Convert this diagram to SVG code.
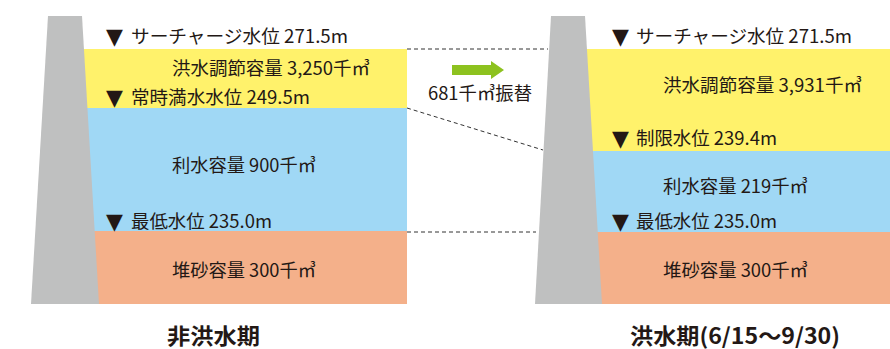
<svg xmlns="http://www.w3.org/2000/svg" width="890" height="349" viewBox="0 0 890 349">
<style>
.t{font-family:"Noto Sans CJK JP","Noto Sans",sans-serif;font-size:18px;fill:#231815}
.tri{font-family:"DejaVu Sans",sans-serif;font-size:22px;fill:#231815}
.h{font-family:"Noto Sans CJK JP","Noto Sans",sans-serif;font-size:22px;font-weight:bold;fill:#231815}
.dam{fill:#bfc0c0}
.y{fill:#fff26b}.b{fill:#a0d8f5}.o{fill:#f4b08a}
.dash{stroke:#333;stroke-width:1;stroke-dasharray:4 3;fill:none}
</style>
<rect width="890" height="349" fill="#fff"/>
<g id="left">
  <rect class="y" x="80" y="49" width="327" height="59"/>
  <rect class="b" x="80" y="108" width="327" height="123"/>
  <rect class="o" x="80" y="231" width="327" height="73"/>
  <polygon class="dam" points="48,16 82,16 99,304 31,304"/>
  <text class="tri" x="106" y="44">▼</text>
  <text class="t" x="131" y="43" textLength="217" lengthAdjust="spacingAndGlyphs">サーチャージ水位 271.5m</text>
  <text class="t" x="172" y="75" textLength="198" lengthAdjust="spacingAndGlyphs">洪水調節容量 3,250千㎥</text>
  <text class="tri" x="106" y="105">▼</text>
  <text class="t" x="131" y="104" textLength="179" lengthAdjust="spacingAndGlyphs">常時満水水位 249.5m</text>
  <text class="t" x="172" y="172" textLength="144" lengthAdjust="spacingAndGlyphs">利水容量 900千㎥</text>
  <text class="tri" x="106" y="229">▼</text>
  <text class="t" x="131" y="228" textLength="141" lengthAdjust="spacingAndGlyphs">最低水位 235.0m</text>
  <text class="t" x="172" y="277" textLength="144" lengthAdjust="spacingAndGlyphs">堆砂容量 300千㎥</text>
  <text class="h" x="167" y="344" textLength="93" lengthAdjust="spacingAndGlyphs">非洪水期</text>
</g>
<g id="right">
  <rect class="y" x="580" y="49" width="310" height="102"/>
  <rect class="b" x="580" y="151" width="310" height="81"/>
  <rect class="o" x="580" y="232" width="310" height="72"/>
  <polygon class="dam" points="551,16 585,16 602,304 535,304"/>
  <text class="tri" x="612" y="44">▼</text>
  <text class="t" x="636" y="43" textLength="216" lengthAdjust="spacingAndGlyphs">サーチャージ水位 271.5m</text>
  <text class="t" x="663" y="92" textLength="199" lengthAdjust="spacingAndGlyphs">洪水調節容量 3,931千㎥</text>
  <text class="tri" x="612" y="146">▼</text>
  <text class="t" x="636" y="145" textLength="141" lengthAdjust="spacingAndGlyphs">制限水位 239.4m</text>
  <text class="t" x="663" y="193" textLength="145" lengthAdjust="spacingAndGlyphs">利水容量 219千㎥</text>
  <text class="tri" x="612" y="229">▼</text>
  <text class="t" x="636" y="228" textLength="141" lengthAdjust="spacingAndGlyphs">最低水位 235.0m</text>
  <text class="t" x="663" y="277" textLength="145" lengthAdjust="spacingAndGlyphs">堆砂容量 300千㎥</text>
  <text class="h" x="630" y="344" textLength="210" lengthAdjust="spacingAndGlyphs">洪水期(6/15～9/30)</text>
</g>
<g id="connectors">
  <line class="dash" x1="407" y1="49" x2="548" y2="49"/>
  <line class="dash" x1="407" y1="108" x2="543" y2="150"/>
  <line class="dash" x1="407" y1="232" x2="536" y2="232"/>
</g>
<g id="transfer">
  <polygon fill="#8dc21f" points="452,65 491,65 491,61 504,70 491,79 491,75 452,75"/>
  <text class="t" x="428" y="100" textLength="104" lengthAdjust="spacingAndGlyphs">681千㎥振替</text>
</g>
</svg>
